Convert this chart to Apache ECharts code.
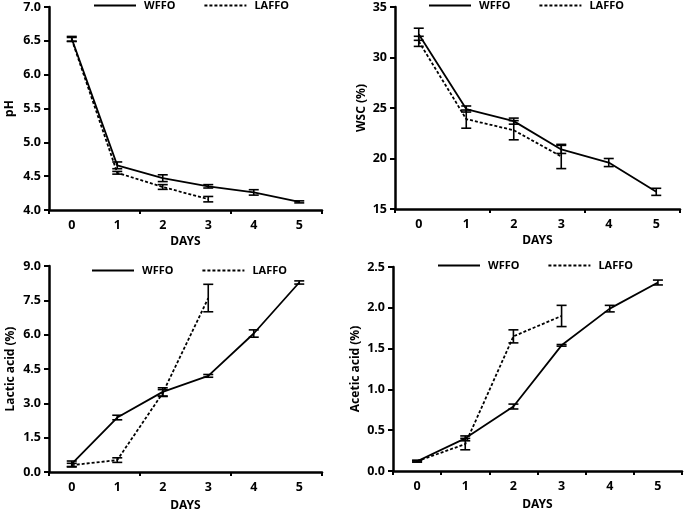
<!DOCTYPE html>
<html>
<head>
<meta charset="utf-8">
<script src="https://cdn.jsdelivr.net/npm/echarts/dist/echarts.min.js"></script>
<style>
  html, body { margin: 0; padding: 0; background: #fff; }
  #main { width: 685px; height: 510px; }
</style>
</head>
<body>
<div id="main"></div>
<script>
// x categories
var days = ['0', '1', '2', '3', '4', '5'];
var seriesNames = ['WFFO', 'LAFFO'];

// pH
var phW = [6.53, 4.66, 4.47, 4.35, 4.26, 4.12];
var phWErr = [0.035, 0.05, 0.05, 0.025, 0.04, 0.015];
var phL = [6.52, 4.55, 4.34, 4.16];
var phLErr = [0.03, 0.02, 0.035, 0.04];

// WSC (%)
var wscW = [32.3, 24.9, 23.7, 20.9, 19.6, 16.7];
var wscWErr = [0.6, 0.3, 0.3, 0.4, 0.4, 0.35];
var wscL = [31.6, 23.9, 22.8, 20.2];
var wscLErr = [0.5, 0.9, 0.95, 1.2];

// Lactic acid (%)
var latW = [0.36, 2.38, 3.5, 4.2, 6.05, 8.28];
var latWErr = [0.12, 0.1, 0.18, 0.06, 0.16, 0.07];
var latL = [0.3, 0.52, 3.45, 7.6];
var latLErr = [0.08, 0.1, 0.15, 0.6];

// Acetic acid (%)
var aceW = [0.12, 0.4, 0.79, 1.54, 1.99, 2.31];
var aceWErr = [0.01, 0.03, 0.03, 0.01, 0.04, 0.03];
var aceL = [0.12, 0.33, 1.65, 1.9];
var aceLErr = [0.01, 0.07, 0.08, 0.13];

var FONT = 'Noto Sans';

// panel layout: grid box, y scale, axis names, legend spot
var panels = [
  { grid: { left: 49, top: 7, width: 273, height: 203 }, min: 4, max: 7, interval: 0.5, digits: 1,
    yName: 'pH', yGap: 33, xGap: 26, tickEvery: 1, legend: { left: 93, top: 0 },
    w: phW, wErr: phWErr, l: phL, lErr: phLErr },
  { grid: { left: 395, top: 7, width: 285, height: 202 }, min: 15, max: 35, interval: 5, digits: 0,
    yName: 'WSC (%)', yGap: 27, xGap: 26, tickEvery: 1, legend: { left: 428, top: 0 },
    w: wscW, wErr: wscWErr, l: wscL, lErr: wscLErr },
  { grid: { left: 49, top: 266, width: 273, height: 206 }, min: 0, max: 9, interval: 1.5, digits: 1,
    yName: 'Lactic acid (%)', yGap: 32, xGap: 28, tickEvery: 1, legend: { left: 91, top: 265 },
    w: latW, wErr: latWErr, l: latL, lErr: latLErr },
  { grid: { left: 393, top: 267, width: 289, height: 204 }, min: 0, max: 2.5, interval: 0.5, digits: 1,
    yName: 'Acetic acid (%)', yGap: 31, xGap: 28, tickEvery: 0, legend: { left: 437, top: 260 },
    w: aceW, wErr: aceWErr, l: aceL, lErr: aceLErr }
];

// error bar: vertical line with two caps
function renderErr(params, api) {
  var x = api.value(0);
  var lo = api.coord([x, api.value(1)]);
  var hi = api.coord([x, api.value(2)]);
  var w = 5;
  var st = { stroke: '#000', lineWidth: 1.6, fill: null };
  return {
    type: 'group',
    children: [
      { type: 'line', shape: { x1: lo[0], y1: lo[1], x2: hi[0], y2: hi[1] }, style: st },
      { type: 'line', shape: { x1: lo[0] - w, y1: lo[1], x2: lo[0] + w, y2: lo[1] }, style: st },
      { type: 'line', shape: { x1: hi[0] - w, y1: hi[1], x2: hi[0] + w, y2: hi[1] }, style: st }
    ]
  };
}

function errData(vals, errs) {
  var res = [];
  for (var i = 0; i < vals.length; i++) {
    res.push([i, vals[i] - errs[i], vals[i] + errs[i]]);
  }
  return res;
}

var axisLine = { lineStyle: { color: '#000', width: 2.5 } };
var labelStyle = { color: '#000', fontFamily: FONT, fontWeight: 'bold', fontSize: 12.5 };
var nameStyle = { color: '#000', fontFamily: FONT, fontWeight: 'bold', fontSize: 12 };

var grids = [], xAxes = [], yAxes = [], legends = [], series = [];

panels.forEach(function (p, k) {
  // fixed pixel box, don't let echarts shrink it to fit labels
  grids.push(Object.assign({ outerBoundsMode: 'none', containLabel: false }, p.grid));
  xAxes.push({
    type: 'category', gridIndex: k, data: days, boundaryGap: true,
    name: 'DAYS', nameLocation: 'middle', nameGap: p.xGap, nameTextStyle: nameStyle,
    axisLine: axisLine,
    axisTick: { show: true, interval: p.tickEvery, length: 4, lineStyle: { color: '#000', width: 2 } },
    axisLabel: Object.assign({ margin: 9 }, labelStyle),
    splitLine: { show: false }
  });
  yAxes.push({
    type: 'value', gridIndex: k, min: p.min, max: p.max, interval: p.interval,
    name: p.yName, nameLocation: 'middle', nameGap: p.yGap, nameTextStyle: nameStyle,
    axisLine: { show: true, lineStyle: axisLine.lineStyle },
    axisTick: { show: true, length: 5, lineStyle: { color: '#000', width: 2 } },
    axisLabel: Object.assign({
      margin: 8,
      formatter: function (v) { return v.toFixed(p.digits); }
    }, labelStyle),
    splitLine: { show: false }
  });
  legends.push({
    data: seriesNames, left: p.legend.left, top: p.legend.top, padding: 0,
    itemWidth: 42, itemHeight: 10, itemGap: 28,
    itemStyle: { opacity: 0 },  // hide the dot, keep the line
    textStyle: { color: '#000', fontFamily: FONT, fontWeight: 'bold', fontSize: 11, padding: [0, 0, 0, 3] }
  });
  series.push({
    name: 'WFFO', type: 'line', xAxisIndex: k, yAxisIndex: k, data: p.w,
    symbol: 'none', lineStyle: { color: '#000', width: 1.8 }, itemStyle: { color: '#000' }
  });
  series.push({
    name: 'LAFFO', type: 'line', xAxisIndex: k, yAxisIndex: k, data: p.l,
    symbol: 'none', lineStyle: { color: '#000', width: 1.8, type: [3, 2] }, itemStyle: { color: '#000' }
  });
  series.push({
    name: 'errW' + k, type: 'custom', xAxisIndex: k, yAxisIndex: k,
    data: errData(p.w, p.wErr), renderItem: renderErr, encode: { x: 0, y: [1, 2] }, z: 3
  });
  series.push({
    name: 'errL' + k, type: 'custom', xAxisIndex: k, yAxisIndex: k,
    data: errData(p.l, p.lErr), renderItem: renderErr, encode: { x: 0, y: [1, 2] }, z: 3
  });
});

var myChart = echarts.init(document.getElementById('main'));
myChart.setOption({
  animation: false,
  backgroundColor: '#fff',
  grid: grids,
  xAxis: xAxes,
  yAxis: yAxes,
  legend: legends,
  series: series
});
</script>
</body>
</html>
